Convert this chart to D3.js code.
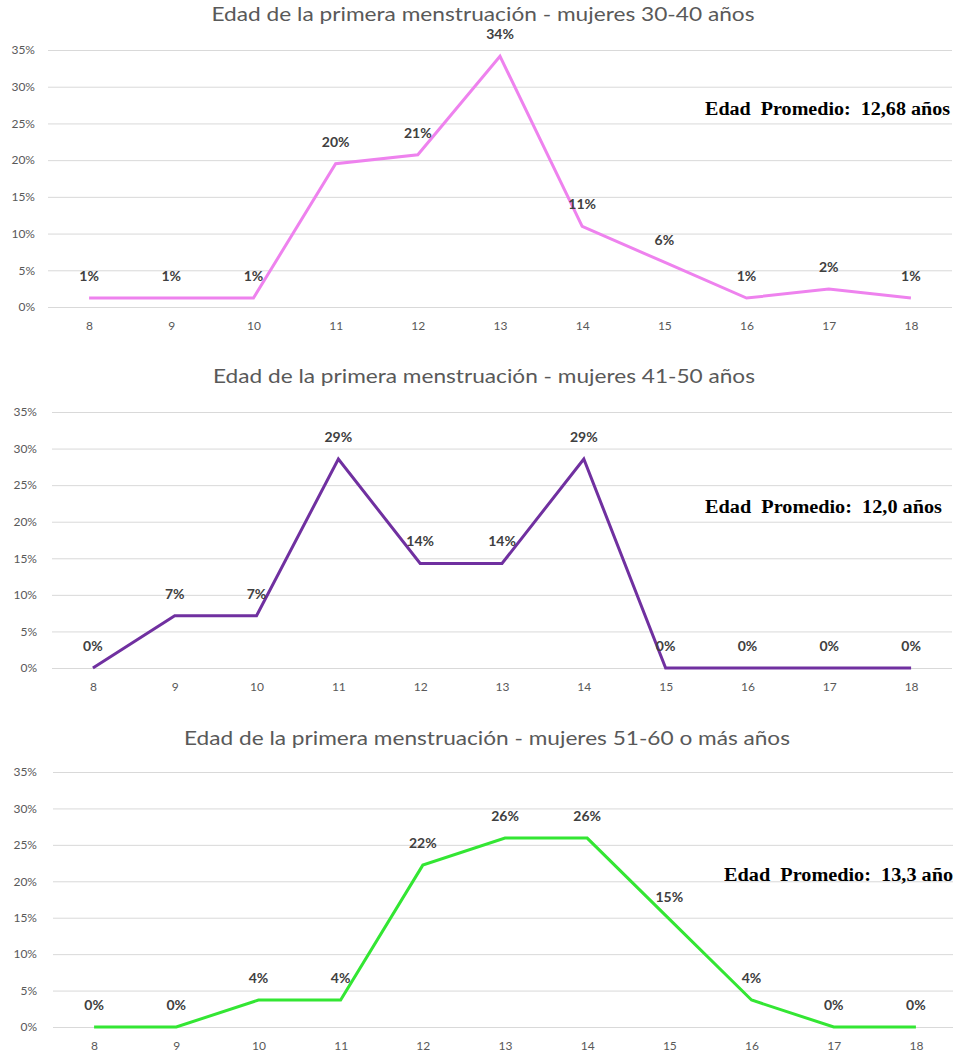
<!DOCTYPE html>
<html>
<head>
<meta charset="utf-8">
<script src="https://cdn.jsdelivr.net/npm/d3@7"></script>
<style>
  html, body { margin: 0; padding: 0; background: #ffffff; }
  svg { display: block; }
</style>
</head>
<body>
<svg id="chart" width="953" height="1059"></svg>
<script>
// Age at first menstruation (years)
const ages = [8, 9, 10, 11, 12, 13, 14, 15, 16, 17, 18];

// Share of women per age, in percent
const women30to40 = [1.22, 1.22, 1.22, 19.51, 20.73, 34.15, 10.98, 6.10, 1.22, 2.44, 1.22];
const women41to50 = [0, 7.14, 7.14, 28.57, 14.29, 14.29, 28.57, 0, 0, 0, 0];
const women51to60 = [0, 0, 3.70, 3.70, 22.22, 25.93, 25.93, 14.81, 3.70, 0, 0];

const titles = [
  "Edad de la primera menstruación - mujeres 30-40 años",
  "Edad de la primera menstruación - mujeres 41-50 años",
  "Edad de la primera menstruación - mujeres 51-60 o más años"
];
const averageNotes = [
  "Edad  Promedio:  12,68 años",
  "Edad  Promedio:  12,0 años",
  "Edad  Promedio:  13,3 años"
];

const yTicks = [0, 5, 10, 15, 20, 25, 30, 35];

// Layout of the three stacked panels
const panels = [
  { values: women30to40, color: "#EE82EE", left: 48, right: 952, top: 50, bottom: 307,
    yLabelX: 35, titleX: 483, titleY: 21, titleW: 543, noteX: 705, noteY: 115, noteW: 245 },
  { values: women41to50, color: "#7030A0", left: 52, right: 952, top: 412, bottom: 668,
    yLabelX: 37, titleX: 484, titleY: 383, titleW: 542, noteX: 705, noteY: 513, noteW: 237 },
  { values: women51to60, color: "#33E633", left: 53, right: 957, top: 772, bottom: 1027,
    yLabelX: 37, titleX: 487, titleY: 745, titleW: 606, noteX: 724, noteY: 881, noteW: 237 }
];

const svg = d3.select("#chart");
const textFont = "Lato, 'Open Sans', sans-serif";

panels.forEach((p, i) => {
  const g = svg.append("g");

  const x = d3.scalePoint().domain(ages).range([p.left, p.right]).padding(0.5);
  const y = d3.scaleLinear().domain([0, 35]).range([p.bottom, p.top]);

  // Horizontal gridlines with percent labels
  const yAxis = d3.axisLeft(y)
    .tickValues(yTicks)
    .tickSize(-(p.right - p.left))
    .tickPadding(p.left - p.yLabelX)
    .tickFormat(d => d + "%");
  const gy = g.append("g")
    .attr("transform", `translate(${p.left},0)`)
    .call(yAxis);
  gy.select(".domain").remove();
  gy.selectAll(".tick line").attr("stroke", "#d9d9d9").attr("stroke-width", 1);
  gy.selectAll(".tick text")
    .attr("fill", "#595959")
    .style("font-family", textFont)
    .style("font-size", "12px");

  // Age labels along the bottom
  const xAxis = d3.axisBottom(x).tickSize(0).tickPadding(14);
  const gx = g.append("g")
    .attr("transform", `translate(0,${p.bottom})`)
    .call(xAxis);
  gx.select(".domain").remove();
  gx.selectAll(".tick text")
    .attr("fill", "#595959")
    .style("font-family", textFont)
    .style("font-size", "12px");

  // Title
  g.append("text")
    .attr("x", p.titleX)
    .attr("y", p.titleY)
    .attr("text-anchor", "middle")
    .attr("fill", "#595959")
    .attr("textLength", p.titleW)
    .attr("lengthAdjust", "spacingAndGlyphs")
    .style("font-family", textFont)
    .style("font-size", "20px")
    .text(titles[i]);

  // Series line
  const line = d3.line()
    .x((d, k) => x(ages[k]))
    .y(d => y(d));
  g.append("path")
    .datum(p.values)
    .attr("fill", "none")
    .attr("stroke", p.color)
    .attr("stroke-width", 3)
    .attr("stroke-linejoin", "miter")
    .attr("d", line);

  // Value labels above each point
  g.selectAll(".value-label")
    .data(p.values)
    .join("text")
    .attr("class", "value-label")
    .attr("x", (d, k) => x(ages[k]))
    .attr("y", d => y(d) - 17)
    .attr("text-anchor", "middle")
    .attr("fill", "#404040")
    .style("font-family", textFont)
    .style("font-size", "14px")
    .style("font-weight", "bold")
    .text(d => Math.round(d) + "%");

  // Average age note
  g.append("text")
    .attr("x", p.noteX)
    .attr("y", p.noteY)
    .attr("fill", "#000000")
    .attr("xml:space", "preserve")
    .attr("textLength", p.noteW)
    .attr("lengthAdjust", "spacingAndGlyphs")
    .style("white-space", "pre")
    .style("font-family", "'Liberation Serif', 'Times New Roman', serif")
    .style("font-size", "18px")
    .style("font-weight", "bold")
    .text(averageNotes[i]);
});
</script>
</body>
</html>
